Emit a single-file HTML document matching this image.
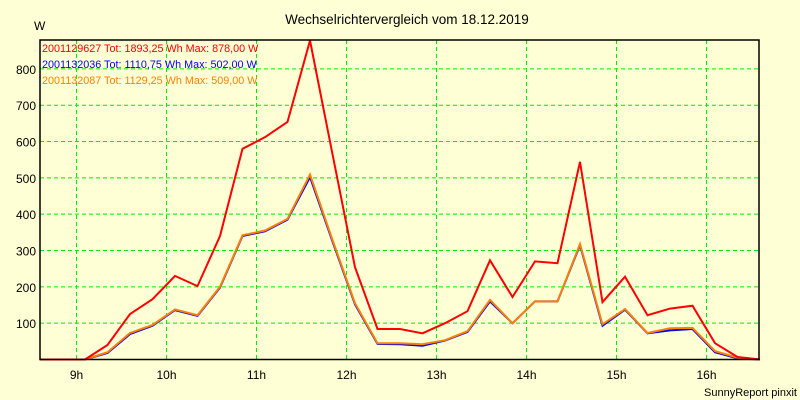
<!DOCTYPE html>
<html><head><meta charset="utf-8"><style>
html,body{margin:0;padding:0;background:#ffffd6;}
svg{display:block;font-family:"Liberation Sans",sans-serif;font-size:12px;}
</style></head><body>
<svg id="chart" width="800" height="400">
<rect x="0" y="0" width="800" height="400" fill="#ffffd6"/>
<text x="407" y="24" text-anchor="middle" fill="#000" font-size="13.5">Wechselrichtervergleich vom 18.12.2019</text>
<text x="34" y="30" fill="#000">W</text>
<g id="grid"></g>
<g id="yticks"></g>
<g id="xticks"></g>
<g id="series"></g>
<rect x="40" y="40" width="719" height="319.5" fill="none" stroke="#000" stroke-width="1.5"/>
<g font-size="10.8">
<text x="42" y="52" fill="#ff0000">2001129627 Tot: 1893,25 Wh Max: 878,00 W</text>
<text x="42" y="68" fill="#0000ff">2001132036 Tot: 1110,75 Wh Max: 502,00 W</text>
<text x="42" y="84" fill="#ff8000">2001132087 Tot: 1129,25 Wh Max: 509,00 W</text>
</g>
<text x="797" y="396" text-anchor="end" fill="#000" font-size="11">SunnyReport pinxit</text>
</svg>
<script>
// times in decimal hours (15-minute steps)
const times = [8.594,8.844,9.094,9.344,9.594,9.844,10.094,10.344,10.594,10.844,11.094,11.344,11.594,11.844,12.094,12.344,12.594,12.844,13.094,13.344,13.594,13.844,14.094,14.344,14.594,14.844,15.094,15.344,15.594,15.844,16.094,16.344,16.594];
const redValues = [0,0,0,40,125,166,230,202,340,580,612,654,878,565,254,84,84,72,100,133,273,172,270,265,544,158,228,122,140,148,45,7,0];
const blueValues = [0,0,0,18,70,93,136,120,198,340,353,385,502,325,152,43,42,38,52,76,160,100,160,160,315,93,137,72,80,84,20,3,0];
const orangeValues = [0,0,0,20,73,95,138,122,200,342,355,387,509,329,155,45,45,42,53,78,164,100,160,160,318,97,139,73,86,87,23,5,0];
const yTicks = [100,200,300,400,500,600,700,800];
const xTickHours = [9,10,11,12,13,14,15,16];
const xTickLabels = ["9h","10h","11h","12h","13h","14h","15h","16h"];

const NS = "http://www.w3.org/2000/svg";
const x = h => 76.5 + (h - 9) * 90;
const y = v => 359.5 - v * 0.3633;
const L = 40, R = 759, T = 40, B = 359.5;

const grid = document.getElementById('grid');
const yt = document.getElementById('yticks');
const xt = document.getElementById('xticks');
yTicks.forEach(v => {
  const l = document.createElementNS(NS, 'line');
  l.setAttribute('x1', L); l.setAttribute('x2', R);
  l.setAttribute('y1', y(v)); l.setAttribute('y2', y(v));
  l.setAttribute('stroke', '#00ee00'); l.setAttribute('stroke-dasharray', '4,3');
  
  
  grid.appendChild(l);
  const t = document.createElementNS(NS, 'text');
  t.setAttribute('x', 36); t.setAttribute('y', y(v) + 5);
  t.setAttribute('text-anchor', 'end');
  t.textContent = v;
  
  
  yt.appendChild(t);
});
xTickHours.forEach((h, i) => {
  const l = document.createElementNS(NS, 'line');
  l.setAttribute('x1', x(h)); l.setAttribute('x2', x(h));
  l.setAttribute('y1', T); l.setAttribute('y2', B);
  l.setAttribute('stroke', '#00ee00'); l.setAttribute('stroke-dasharray', '4,3');
  
  
  grid.appendChild(l);
  const t = document.createElementNS(NS, 'text');
  t.setAttribute('x', x(h)); t.setAttribute('y', 379);
  t.setAttribute('text-anchor', 'middle');
  t.textContent = xTickLabels[i];
  
  
  xt.appendChild(t);
});
const sg = document.getElementById('series');
function line(vals, color, name) {
  const p = document.createElementNS(NS, 'polyline');
  p.setAttribute('points', vals.map((v, i) => x(times[i]).toFixed(1) + ',' + y(v).toFixed(1)).join(' '));
  p.setAttribute('fill', 'none');
  p.setAttribute('stroke', color);
  p.setAttribute('stroke-width', '2');
  
  
  sg.appendChild(p);
}
line(blueValues, '#0000ff', 'series-line-2001132036');
line(orangeValues, '#ff8000', 'series-line-2001132087');
line(redValues, '#ff0000', 'series-line-2001129627');
</script>
</body></html>
